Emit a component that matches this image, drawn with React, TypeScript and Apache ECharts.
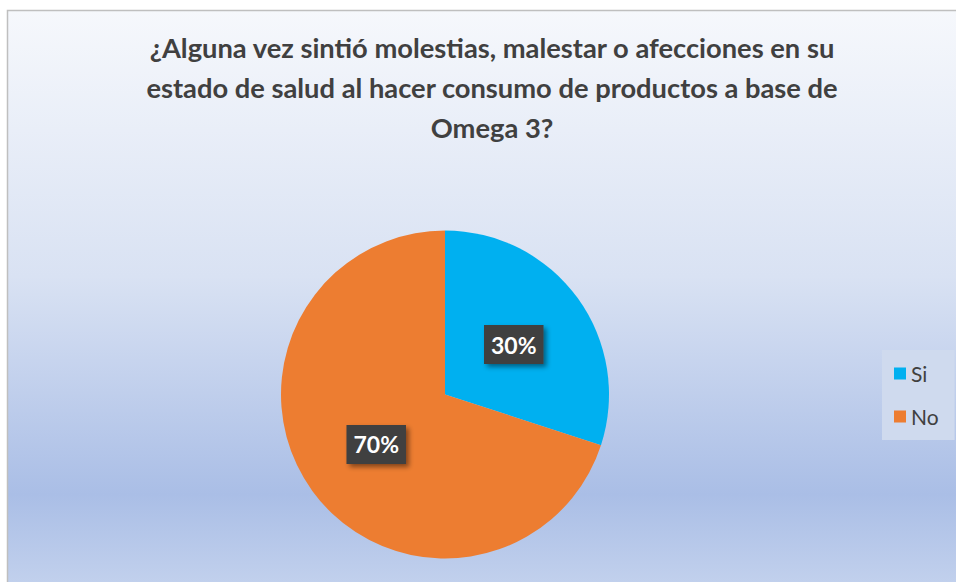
import React, { useEffect, useRef } from "react";
import * as echarts from "echarts";

const titleText =
  "¿Alguna vez sintió molestias, malestar o afecciones en su\nestado de salud al hacer consumo de productos a base de\nOmega 3?";
const categories = ["Si", "No"];
const values = [30, 70];
const colors = ["#00B0F0", "#ED7D31"];

export default function App() {
  const ref = useRef<HTMLDivElement>(null);
  useEffect(() => {
    if (!ref.current) return;
    const chart = echarts.init(ref.current, null, { renderer: "svg" });
    chart.setOption({
      animation: false,
      backgroundColor: "#ffffff",
      graphic: [
        {
          type: "rect",
          shape: { x: 7.5, y: 10.5, width: 960, height: 590 },
          style: {
            stroke: "#BFBFBF",
            lineWidth: 1.5,
            fill: {
              type: "linear",
              x: 0,
              y: 0,
              x2: 0,
              y2: 1,
              colorStops: [
                { offset: 0, color: "#F6F8FC" },
                { offset: 0.45, color: "#D9E2F3" },
                { offset: 0.82, color: "#AABEE6" },
                { offset: 1, color: "#C6D4EE" },
              ],
            },
          },
          z: -10,
          silent: true,
        },
      ],
      title: {
        text: titleText,
        left: 487,
        textAlign: "center",
        top: 22,
        textStyle: {
          fontFamily: "Lato",
          fontWeight: "bold",
          fontSize: 27.3,
          color: "#404040",
          lineHeight: 40,
        },
      },
      legend: {
        orient: "vertical",
        left: 882,
        top: 350,
        width: 70,
        itemWidth: 12,
        itemHeight: 12,
        itemGap: 22,
        padding: [13, 16, 13, 12],
        backgroundColor: "#CFDAEE",
        icon: "rect",
        data: categories,
        textStyle: {
          fontFamily: "Lato",
          fontSize: 21,
          color: "#404040",
          padding: [0, 0, 0, 0],
        },
      },
      series: [
        {
          type: "pie",
          center: [445, 394.5],
          radius: [0, 164],
          startAngle: 90,
          clockwise: true,
          silent: true,
          data: categories.map((c, i) => ({
            name: c,
            value: values[i],
            itemStyle: { color: colors[i] },
          })),
          label: {
            show: true,
            position: "inside",
            formatter: "{d}%",
            color: "#FFFFFF",
            fontFamily: "Lato",
            fontWeight: "bold",
            fontSize: 23,
            backgroundColor: "#404040",
            padding: [8, 7, 8, 7],
            shadowColor: "rgba(0,0,0,0.45)",
            shadowBlur: 5,
            shadowOffsetX: 3,
            shadowOffsetY: 3,
          },
          labelLine: { show: false },
        },
      ],
    });
    return () => chart.dispose();
  }, []);
  return (
    <div
      ref={ref}
      style={{ position: "absolute", left: 0, top: 0, width: 956, height: 582 }}
    />
  );
}
